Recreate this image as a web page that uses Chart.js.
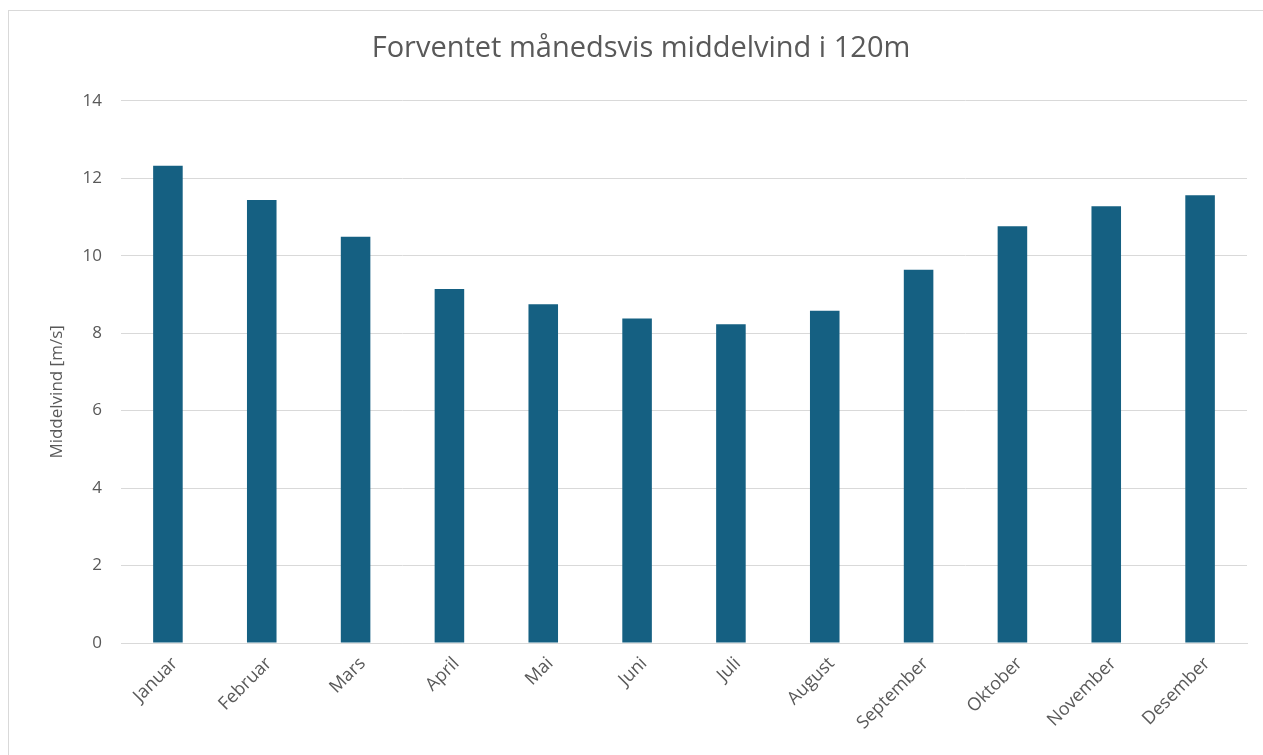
<!DOCTYPE html>
<html>
<head>
<meta charset="utf-8">
<script src="https://cdn.jsdelivr.net/npm/chart.js@4"></script>
<style>
  html, body { margin: 0; padding: 0; background: #ffffff; }
  #wrap { position: relative; width: 1263px; height: 755px; }
  #frame { position: absolute; left: 8px; top: 10px; width: 1270px; height: 760px; border: 1px solid #d9d9d9; box-sizing: border-box; pointer-events: none; }
  canvas { position: absolute; left: 0; top: 0; }
</style>
</head>
<body>
<div id="wrap">
  <canvas id="c" width="1263" height="755"></canvas>
  <div id="frame"></div>
</div>
<script>
const categories = ["Januar", "Februar", "Mars", "April", "Mai", "Juni", "Juli", "August", "September", "Oktober", "November", "Desember"];
const middelvind = [12.32, 11.44, 10.49, 9.14, 8.75, 8.38, 8.23, 8.58, 9.64, 10.76, 11.28, 11.56];
const yTicks = [0, 2, 4, 6, 8, 10, 12, 14];
const chartTitle = "Forventet månedsvis middelvind i 120m";
const yAxisTitle = "Middelvind [m/s]";

const FONT = "'Open Sans', 'Noto Sans', sans-serif";
const TXT = "#595959";

const yTitlePlugin = {
  id: "yTitle",
  afterDraw(chart) {
    const ctx = chart.ctx;
    const area = chart.chartArea;
    ctx.save();
    ctx.fillStyle = TXT;
    ctx.font = "17px " + FONT;
    ctx.textAlign = "center";
    ctx.textBaseline = "middle";
    ctx.translate(57, (area.top + area.bottom) / 2 + 20);
    ctx.rotate(-Math.PI / 2);
    ctx.fillText(yAxisTitle, 0, 0);
    ctx.restore();
  }
};

new Chart(document.getElementById("c"), {
  type: "bar",
  data: {
    labels: categories,
    datasets: [{
      label: yAxisTitle,
      data: middelvind,
      backgroundColor: "#156082",
      borderWidth: 0,
      categoryPercentage: 1.0,
      barPercentage: 0.315
    }]
  },
  options: {
    responsive: false,
    animation: false,
    devicePixelRatio: 1,
    layout: { padding: { left: 35, right: 16, top: 0, bottom: 0 } },
    plugins: {
      legend: { display: false },
      tooltip: { enabled: false },
      title: {
        display: true,
        text: chartTitle,
        color: TXT,
        font: { family: FONT, size: 29, weight: "normal" },
        padding: { top: 31, bottom: 35 }
      }
    },
    scales: {
      x: {
        grid: { display: false },
        border: { display: true, color: "#d9d9d9", width: 1 },
        ticks: {
          color: TXT,
          font: { family: FONT, size: 18 },
          minRotation: 45,
          maxRotation: 45,
          autoSkip: false,
          padding: 2,
          labelOffset: 7
        },
        afterFit: (s) => { s.height = 112; }
      },
      y: {
        min: 0,
        max: 14,
        afterBuildTicks: (s) => { s.ticks = yTicks.map(v => ({ value: v })); },
        grid: { color: "#d9d9d9", lineWidth: 1, drawTicks: false },
        border: { display: false },
        ticks: {
          color: TXT,
          font: { family: FONT, size: 17 },
          padding: 19
        },
        afterFit: (s) => { s.width = 86; }
      }
    }
  },
  plugins: [yTitlePlugin]
});
</script>
</body>
</html>
